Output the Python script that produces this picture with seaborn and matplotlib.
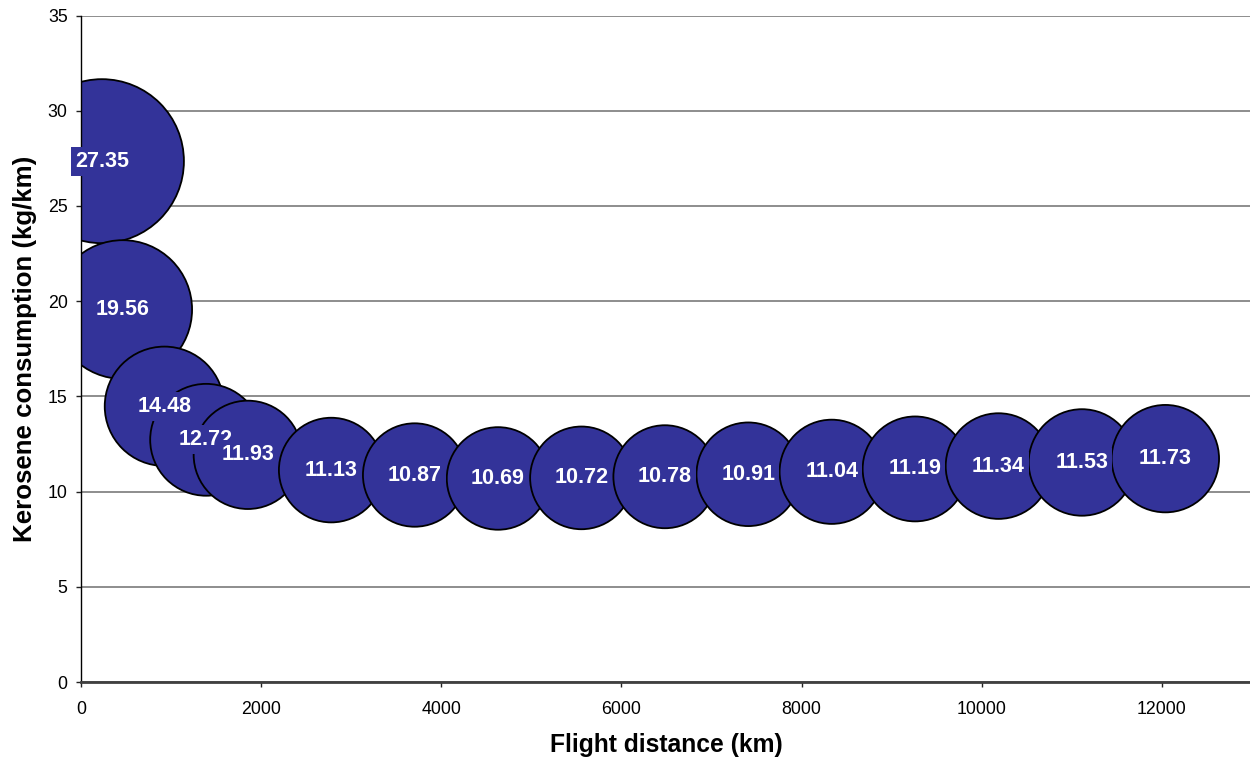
import matplotlib
matplotlib.use("Agg")
import matplotlib.pyplot as plt
import seaborn as sns
import pandas as pd

# Data
distance_km = [232, 463, 926, 1389, 1852, 2778, 3704, 4630, 5556, 6482,
               7408, 8334, 9260, 10186, 11112, 12038]
consumption = [27.35, 19.56, 14.48, 12.72, 11.93, 11.13, 10.87, 10.69, 10.72,
               10.78, 10.91, 11.04, 11.19, 11.34, 11.53, 11.73]
x_ticks = [0, 2000, 4000, 6000, 8000, 10000, 12000]
y_ticks = [0, 5, 10, 15, 20, 25, 30, 35]
x_label = "Flight distance (km)"
y_label = "Kerosene consumption (kg/km)"

df = pd.DataFrame({"distance": distance_km, "consumption": consumption})

sns.set_theme(style="white")
plt.rcParams["font.family"] = ["Liberation Sans", "DejaVu Sans"]

BLUE = "#333399"
fig = plt.figure(figsize=(12.5, 7.6), dpi=100)
ax = fig.add_axes([0.0648, 0.1026, 1.0016 - 0.0648, 0.9796 - 0.1026])

vmin, vmax = min(consumption), max(consumption)
k = 510.0
sns.scatterplot(data=df, x="distance", y="consumption", size="consumption",
                sizes=(k * vmin, k * vmax), size_norm=(vmin, vmax),
                color=BLUE, edgecolor="black", linewidth=1.3, alpha=1,
                legend=False, ax=ax, zorder=2)

for xv, yv in zip(df["distance"], df["consumption"]):
    ax.text(xv, yv, f"{yv:.2f}", ha="center", va="center", color="white",
            fontsize=15.5, fontweight="bold", zorder=5,
            bbox=dict(boxstyle="square,pad=0.18", facecolor=BLUE,
                      edgecolor="none"))

ax.set_xlim(0, 13000)
ax.set_ylim(0, 35)
ax.set_xticks(x_ticks)
ax.set_yticks(y_ticks)
ax.set_xticklabels([str(t) for t in x_ticks])
ax.set_yticklabels([str(t) for t in y_ticks])

ax.yaxis.grid(True, color="#7a7a7a", linewidth=1.2)
ax.xaxis.grid(False)
ax.set_axisbelow(True)

for side in ["top", "right"]:
    ax.spines[side].set_visible(False)
ax.spines["left"].set_color("black")
ax.spines["left"].set_linewidth(1.0)
ax.spines["bottom"].set_color("#404040")
ax.spines["bottom"].set_linewidth(2.0)

ax.tick_params(axis="both", direction="out", length=3.6, width=1.0,
               color="#222222", labelsize=12.8, labelcolor="black",
               left=True, bottom=True)
ax.tick_params(axis="y", pad=6)
ax.tick_params(axis="x", pad=10)

ax.set_xlabel(x_label, fontsize=17.7, fontweight="bold", labelpad=11,
              color="black")
ax.set_ylabel(y_label, fontsize=18.6, fontweight="bold", labelpad=8,
              color="black")

fig.savefig("out.png", dpi=100)
